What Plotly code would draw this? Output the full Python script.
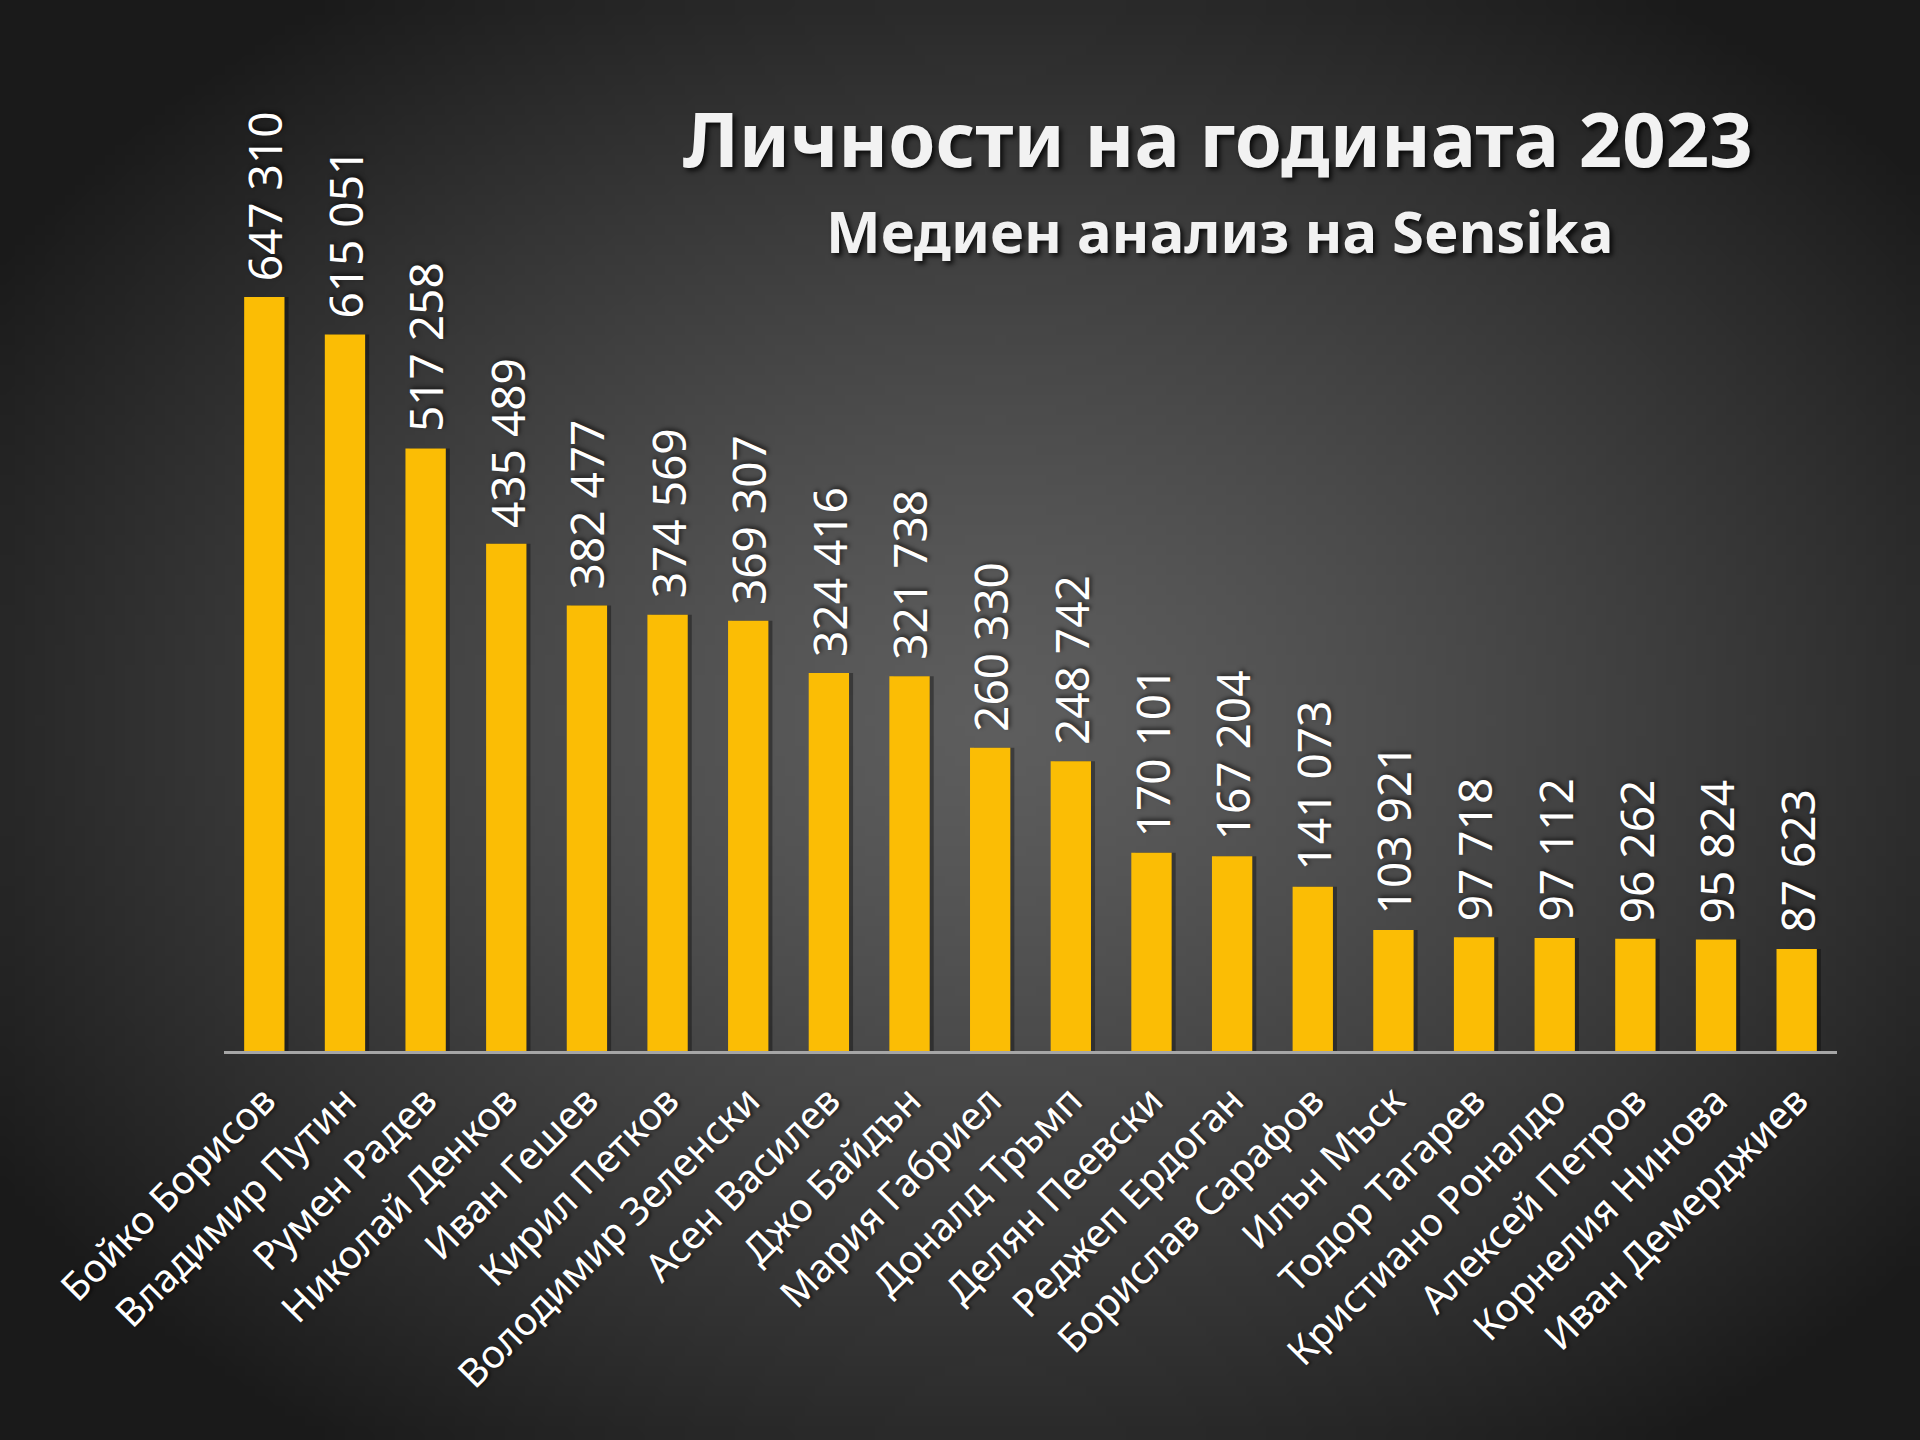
import base64
import struct
import zlib

import numpy as np
import plotly.graph_objects as go

# Данни: медийни споменавания 2023
names = [
    "Бойко Борисов", "Владимир Путин", "Румен Радев", "Николай Денков",
    "Иван Гешев", "Кирил Петков", "Володимир Зеленски", "Асен Василев",
    "Джо Байдън", "Мария Габриел", "Доналд Тръмп", "Делян Пеевски",
    "Реджеп Ердоган", "Борислав Сарафов", "Илън Мъск", "Тодор Тагарев",
    "Кристиано Роналдо", "Алексей Петров", "Корнелия Нинова", "Иван Демерджиев",
]
mentions = [
    647310, 615051, 517258, 435489, 382477, 374569, 369307, 324416,
    321738, 260330, 248742, 170101, 167204, 141073, 103921, 97718,
    97112, 96262, 95824, 87623,
]
title_text = "Личности на годината 2023"
subtitle_text = "Медиен анализ на Sensika"

W, H = 1920, 1440
ML, MR, MT, MB = 224, 83, 60, 389
plot_w = W - ML - MR
plot_h = H - MT - MB
y_max = 850750


def radial_png(w=192, h=144):
    # тъмен фон с по-светъл център
    yy, xx = np.mgrid[0:h, 0:w]
    dx = (xx / (w - 1) - 0.52) / 0.62
    dy = (yy / (h - 1) - 0.50) / 0.62
    r = np.clip(np.sqrt(dx ** 2 + dy ** 2), 0, 1)
    c = 94 - (94 - 26) * r ** 1.3
    arr = np.stack([c, c, c], axis=-1).astype(np.uint8)
    raw = b"".join(b"\x00" + row.tobytes() for row in arr)

    def chunk(tag, data):
        return (struct.pack(">I", len(data)) + tag + data
                + struct.pack(">I", zlib.crc32(tag + data) & 0xffffffff))

    png = (b"\x89PNG\r\n\x1a\n"
           + chunk(b"IHDR", struct.pack(">IIBBBBB", w, h, 8, 2, 0, 0, 0))
           + chunk(b"IDAT", zlib.compress(raw, 9))
           + chunk(b"IEND", b""))
    return "data:image/png;base64," + base64.b64encode(png).decode()


labels = [f"{v:,}".replace(",", " ") for v in mentions]

fig = go.Figure()

# сянка зад стълбовете
fig.add_trace(go.Bar(
    x=names, y=mentions, width=0.5, offset=-0.2,
    marker=dict(color="rgba(0,0,0,0.35)", line=dict(width=0)),
    hoverinfo="skip", showlegend=False,
))

fig.add_trace(go.Bar(
    x=names, y=mentions, width=0.5, offset=-0.25,
    marker=dict(color="#FBBD05", line=dict(width=0)),
    showlegend=False,
))

# етикети със стойностите над стълбовете
for name, val, lab in zip(names, mentions, labels):
    fig.add_annotation(
        x=name, y=val, text=lab, textangle=-90,
        xanchor="center", yanchor="bottom", yshift=14, showarrow=False,
        font=dict(family="Noto Sans", size=46, color="white",
                  shadow="2px 2px 4px rgba(0,0,0,0.6)"),
    )

fig.add_annotation(
    text=f"<b>{title_text}</b>", xref="paper", yref="paper",
    x=(1218 - ML) / plot_w, y=(H - MB - 137) / plot_h,
    xanchor="center", yanchor="middle", showarrow=False,
    font=dict(family="Noto Sans", size=76, color="#f2f2f2",
              shadow="3px 3px 5px rgba(0,0,0,0.8)"),
)
fig.add_annotation(
    text=f"<b>{subtitle_text}</b>", xref="paper", yref="paper",
    x=(1220 - ML) / plot_w, y=(H - MB - 230) / plot_h,
    xanchor="center", yanchor="middle", showarrow=False,
    font=dict(family="Noto Sans", size=58, color="#f2f2f2",
              shadow="3px 3px 5px rgba(0,0,0,0.8)"),
)

fig.update_layout(
    width=W, height=H,
    margin=dict(l=ML, r=MR, t=MT, b=MB, autoexpand=False),
    paper_bgcolor="#2a2a2a", plot_bgcolor="rgba(0,0,0,0)",
    barmode="overlay",
    images=[dict(
        source=radial_png(), xref="paper", yref="paper",
        x=-ML / plot_w, y=1 + MT / plot_h,
        sizex=W / plot_w, sizey=H / plot_h,
        sizing="stretch", xanchor="left", yanchor="top", layer="below",
    )],
    xaxis=dict(
        range=[-0.5, len(names) - 0.5], showgrid=False, zeroline=False,
        showline=True, linecolor="#a6a6a6", linewidth=3,
        ticks="", tickangle=-45, automargin=False, ticklabelstandoff=8,
        tickfont=dict(family="Noto Sans", size=39, color="white",
                      shadow="2px 2px 3px rgba(0,0,0,0.5)"),
    ),
    yaxis=dict(range=[0, y_max], visible=False, fixedrange=True),
)

fig.write_html("out.html", config={"displayModeBar": False},
               post_script="document.body.style.margin='0';")
